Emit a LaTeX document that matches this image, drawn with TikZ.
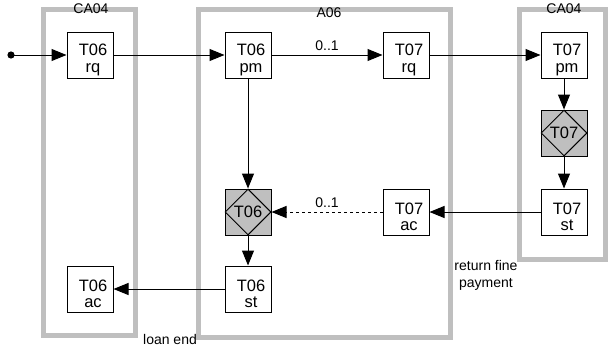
\documentclass[tikz,border=0pt]{standalone}
\usepackage{fontspec}
\setmainfont{Liberation Sans}
\usetikzlibrary{shapes.geometric,arrows.meta}
\tikzset{
  frame/.style={draw=gray!50, line width=5pt},
  box/.style={draw, line width=1pt, minimum size=46pt, inner sep=0pt, fill=white},
  sq/.style={draw, line width=1pt, minimum size=46pt, inner sep=0pt, fill=gray!50},
  dia/.style={draw, line width=1pt, shape=diamond, minimum width=46pt, minimum height=46pt, inner sep=0pt, fill=gray!50, font=\fontsize{16.5}{17}\selectfont},
  txt/.style={align=center, font=\fontsize{16.5}{16.5}\selectfont, xshift=3pt, yshift=-5pt, inner sep=0pt},
  lbl/.style={font=\fontsize{14}{17}\selectfont, align=center, inner sep=0pt},
  arr/.style={line width=1pt, -{Triangle[length=15pt, width=12pt]}},
}
\begin{document}
\begin{tikzpicture}[x=1pt, y=-1pt]
\useasboundingbox (0,0) rectangle (608,348);
% frames
\draw[frame] (43,9) rectangle (135,335);
\draw[frame] (198,9) rectangle (450,337);
\draw[frame] (519,9) rectangle (605,259);
\node[lbl] (fca1) at (91,9) {CA04};
\node[lbl] (fa06) at (329,13) {A06};
\node[lbl] (fca2) at (564,9) {CA04};
% start
\fill (11,55) circle (3.6pt);
\coordinate (start) at (11,55);
% nodes
\node[box, label={[txt]center:T06\\rq}] (t06rq) at (90,55) {};
\node[box, label={[txt]center:T06\\pm}] (t06pm) at (248,55) {};
\node[box, label={[txt]center:T07\\rq}] (t07rq) at (406,55) {};
\node[box, label={[txt]center:T07\\pm}] (t07pm) at (564,55) {};
\node[sq] (s07) at (564,133) {};
\node[dia] (d07) at (564,133) {T07};
\node[box, label={[txt]center:T07\\st}] (t07st) at (564,212) {};
\node[box, label={[txt]center:T07\\ac}] (t07ac) at (406,212) {};
\node[sq] (s06) at (248,212) {};
\node[dia] (d06) at (248,212) {T06};
\node[box, label={[txt]center:T06\\st}] (t06st) at (248,289) {};
\node[box, label={[txt]center:T06\\ac}] (t06ac) at (90,289) {};
% connectors
\draw[arr] (start) -- (t06rq);
\draw[arr] (t06rq) -- (t06pm);
\draw[arr] (t06pm) -- node[lbl, above=4pt] {0..1} (t07rq);
\draw[arr] (t07rq) -- (t07pm);
\draw[arr] (t07pm) -- (d07);
\draw[arr] (d07) -- (t07st);
\draw[arr] (t07st) -- (t07ac);
\draw[arr, dashed] (t07ac) -- node[lbl, above=4pt] {0..1} (d06);
\draw[arr] (t06pm) -- (d06);
\draw[arr] (d06) -- (t06st);
\draw[arr] (t06st) -- (t06ac);
% free labels
\node[lbl] (rf) at (486,275) {return fine\\payment};
\node[lbl] (le) at (170,339) {loan end};
\end{tikzpicture}
\end{document}
